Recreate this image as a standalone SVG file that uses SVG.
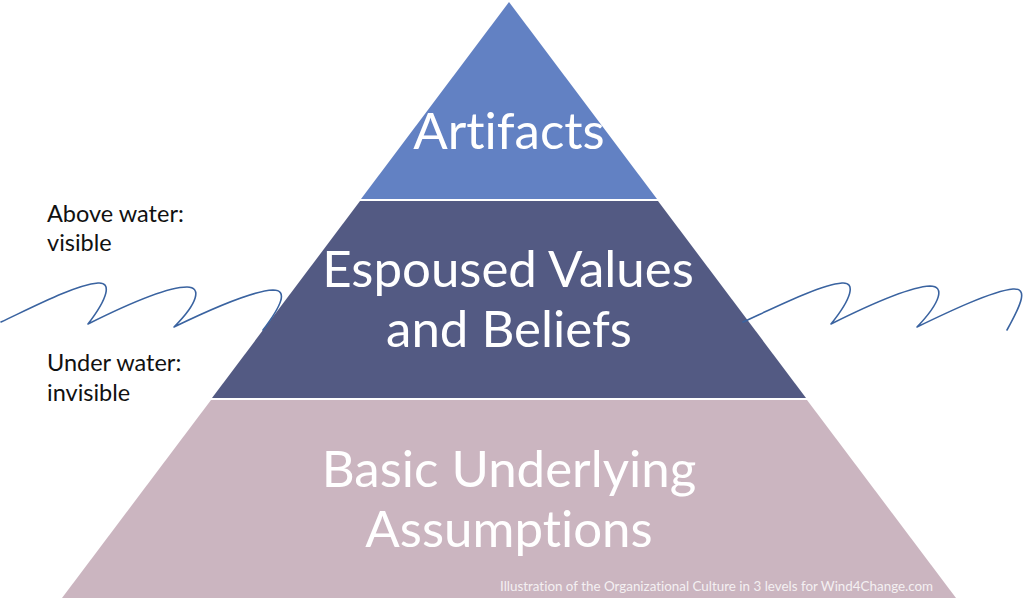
<svg xmlns="http://www.w3.org/2000/svg" width="1024" height="603" viewBox="0 0 1024 603">
<style>
.lvl{font-family:Lato,"Open Sans","Liberation Sans",sans-serif;font-size:51px;fill:#ffffff;text-anchor:middle;font-variant-ligatures:none}
.side{font-family:Lato,"Open Sans","Liberation Sans",sans-serif;font-size:23.5px;fill:#111111;font-variant-ligatures:none}
.wave{fill:none;stroke:#3A63A0;stroke-width:1.6;stroke-linecap:round;stroke-linejoin:round}
.cap{font-family:Lato,"Open Sans","Liberation Sans",sans-serif;font-size:13.4px;fill:#f4f0f2;font-variant-ligatures:none}
</style>
<rect width="1024" height="603" fill="#ffffff"/>
<g id="artifacts">
<polygon points="509,2 657,199 361,199" fill="#6281C3"/>
<text class="lvl" x="509" y="149">Artifacts</text>
</g>
<g id="espoused">
<polygon points="360,201 658,201 806,398 212,398" fill="#535A83"/>
<text class="lvl" x="508" y="287">Espoused Values</text>
<text class="lvl" x="509" y="347">and Beliefs</text>
</g>
<g id="basic">
<polygon points="211,400 807,400 956,598 62,598" fill="#CBB5C0"/>
<text class="lvl" x="509" y="487">Basic Underlying</text>
<text class="lvl" x="509" y="547">Assumptions</text>
<text class="cap" x="500" y="591">Illustration of the Organizational Culture in 3 levels for Wind4Change.com</text>
</g>
<g id="labels">
<text class="side" x="47" y="222">Above water:</text>
<text class="side" x="47" y="251">visible</text>
<text class="side" x="47" y="371">Under water:</text>
<text class="side" x="47" y="401">invisible</text>
</g>
<g id="connectors">
<path class="wave" d="M1,322 C35,306 75,285 98,283 C112,282 108,298 88,324 C120,308 165,287 187,287 C202,287 198,303 174,327 C205,312 250,291 273,290 C288,290 282,305 263,330"/>
<path class="wave" d="M743,322 C778,306 820,285 842,283 C856,282 852,298 831,324 C863,308 908,287 930,286 C945,286 941,302 917,327 C948,312 992,291 1013,289 C1028,288 1022,303 1007,330"/>
</g>
</svg>
